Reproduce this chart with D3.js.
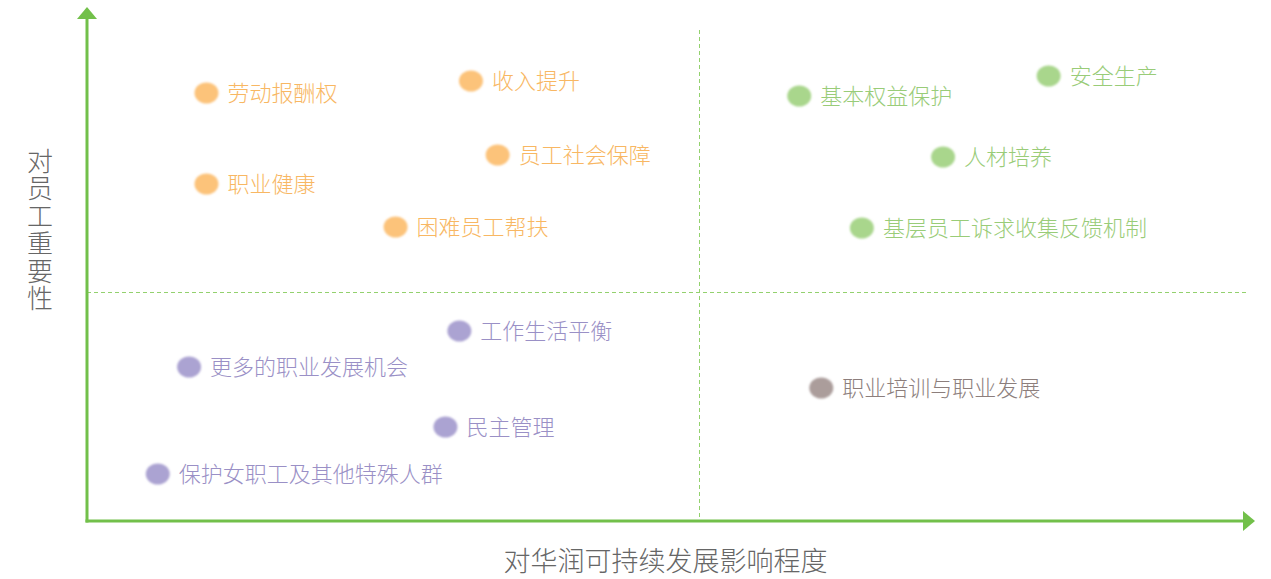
<!DOCTYPE html>
<html><head><meta charset="utf-8">
<script src="https://cdn.jsdelivr.net/npm/d3@7"></script>
<style>
html,body{margin:0;padding:0;background:#fff;}
text{font-family:"Noto Sans CJK SC","Noto Sans",sans-serif;font-weight:300;}
</style></head>
<body><svg id="c" width="1271" height="579"></svg>
<script>
const labels = ["劳动报酬权","收入提升","员工社会保障","职业健康","困难员工帮扶",
  "基本权益保护","安全生产","人材培养","基层员工诉求收集反馈机制",
  "工作生活平衡","更多的职业发展机会","民主管理","保护女职工及其他特殊人群",
  "职业培训与职业发展"];
const xValues = [10.3,33.1,35.4,10.3,26.6, 61.4,82.9,73.8,66.8, 32.1,8.8,30.9,6.1, 63.3];
const yValues = [85.6,88.0,73.2,67.4,58.8, 85.0,89.0,72.8,58.6, 38.0,30.8,18.8,9.4, 26.6];
const groups = ["a","a","a","a","a", "b","b","b","b", "c","c","c","c", "d"];
const xMid = 52.8, yMid = 45.8;
const xTitle = "对华润可持续发展影响程度";
const yTitle = "对员工重要性";

const dotColor = {a:"#fcc37a", b:"#a9d68c", c:"#aba3d2", d:"#ab9d9b"};
const textColor = {a:"#f8b763", b:"#99cc78", c:"#9a90c6", d:"#8c7e7c"};

const svg = d3.select("#c");
const x = d3.scaleLinear().domain([0,100]).range([87,1247]);
const y = d3.scaleLinear().domain([0,100]).range([521,21]);
const axisColor = "#72c04a";
const dashColor = "#93d16e";

// dashed quadrant lines
const vx = Math.round(x(xMid)) + 0.5, hy = Math.round(y(yMid)) + 0.5;
svg.append("line").attr("x1",vx).attr("x2",vx).attr("y1",30).attr("y2",y(0))
  .attr("stroke",dashColor).attr("stroke-width",1).attr("stroke-dasharray","4,3");
svg.append("line").attr("x1",x(0)).attr("x2",x(100)+1).attr("y1",hy).attr("y2",hy)
  .attr("stroke",dashColor).attr("stroke-width",1).attr("stroke-dasharray","4,3");

// axes
svg.append("line").attr("x1",x(0)).attr("x2",x(0)).attr("y1",y(0)+1.5).attr("y2",17)
  .attr("stroke",axisColor).attr("stroke-width",3);
svg.append("path").attr("d",`M${x(0)-10},19 L${x(0)},7 L${x(0)+10},19 Z`).attr("fill",axisColor);
svg.append("line").attr("x1",x(0)-1.5).attr("x2",1244).attr("y1",y(0)).attr("y2",y(0))
  .attr("stroke",axisColor).attr("stroke-width",3);
svg.append("path").attr("d",`M1243,${y(0)-10} L1255,${y(0)} L1243,${y(0)+10} Z`).attr("fill",axisColor);

// points
const data = labels.map((l,i)=>({l, x:xValues[i], y:yValues[i], g:groups[i]}));
const defs = svg.append("defs");
defs.append("filter").attr("id","blur").append("feGaussianBlur").attr("stdDeviation",0.8);
const gp = svg.selectAll("g.p").data(data).enter().append("g").attr("class","p");
gp.append("ellipse").attr("cx",d=>x(d.x)).attr("cy",d=>y(d.y)).attr("rx",12).attr("ry",10.5)
  .attr("fill",d=>dotColor[d.g]).attr("filter","url(#blur)");
gp.append("text").attr("x",d=>x(d.x)+21).attr("y",d=>y(d.y)).attr("dy","0.36em")
  .attr("font-size",22).attr("fill",d=>textColor[d.g]).text(d=>d.l);

// titles
svg.append("text").attr("x",665.5).attr("y",571).attr("text-anchor","middle")
  .attr("font-size",27).attr("fill","#666").text(xTitle);
svg.append("text").attr("x",40).attr("y",148)
  .attr("font-size",26).attr("fill","#666")
  .style("writing-mode","vertical-rl").style("text-orientation","upright")
  .attr("letter-spacing",1.5).text(yTitle);
</script></body></html>
